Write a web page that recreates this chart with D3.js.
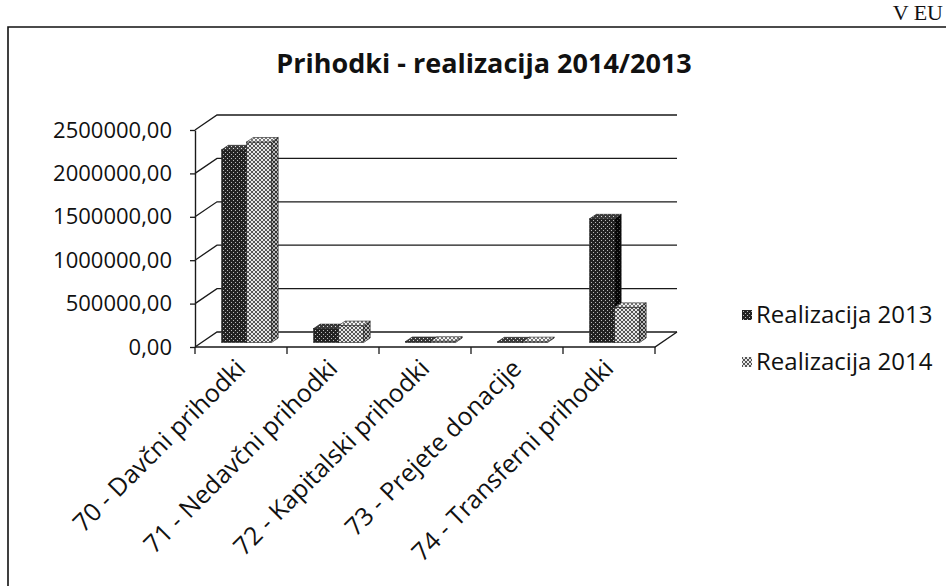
<!DOCTYPE html>
<html>
<head>
<meta charset="utf-8">
<script src="https://cdn.jsdelivr.net/npm/d3@7"></script>
<style>
  body { margin: 0; background: #fff; }
  text { font-family: "Open Sans", sans-serif; fill: #111; }
</style>
</head>
<body>
<div id="canvas"></div>
<script>
const W = 946
const H = 586

const categories = ['70 - Davčni prihodki', '71 - Nedavčni prihodki', '72 - Kapitalski prihodki', '73 - Prejete donacije', '74 - Transferni prihodki']
const series = ['Realizacija 2013', 'Realizacija 2014']
const values2013 = [2220000, 160000, 12000, 8000, 1425000]
const values2014 = [2310000, 195000, 15000, 10000, 405000]
const yTicks = [0, 500000, 1000000, 1500000, 2000000, 2500000]

// oblique depth offset of the 3d box
const DX = 22
const DY = 15
const d0 = 0.3
const d1 = 0.6

const svg = d3.select('#canvas')
	.append('svg')
	.attr('width', W)
	.attr('height', H);

// patterns that look like the scanned fills
const defs = svg.append('defs');
function dotPattern(id, bg, dot) {
	const p = defs.append('pattern').attr('id', id)
		.attr('width', 4).attr('height', 4).attr('patternUnits', 'userSpaceOnUse');
	p.append('rect').attr('width', 4).attr('height', 4).attr('fill', bg);
	p.append('rect').attr('x', 1).attr('y', 0).attr('width', 1).attr('height', 1).attr('fill', dot);
	p.append('rect').attr('x', 3).attr('y', 2).attr('width', 1).attr('height', 1).attr('fill', dot);
}
function hatchPattern(id, bg, line) {
	const p = defs.append('pattern').attr('id', id)
		.attr('width', 4).attr('height', 4).attr('patternUnits', 'userSpaceOnUse');
	p.append('rect').attr('width', 4).attr('height', 4).attr('fill', bg);
	p.append('path').attr('d', 'M0,0 L4,4 M4,0 L0,4').attr('stroke', line).attr('stroke-width', 1);
}
dotPattern('dark', '#222', '#bbb');
dotPattern('darkSide', '#050505', '#555');
dotPattern('darkTop', '#3a3a3a', '#ddd');
hatchPattern('light', '#e6e6e6', '#555');
hatchPattern('lightSide', '#bbb', '#333');
hatchPattern('lightTop', '#f2f2f2', '#777');

const fills = [
	{front: 'url(#dark)', side: 'url(#darkSide)', top: 'url(#darkTop)'},
	{front: 'url(#light)', side: 'url(#lightSide)', top: 'url(#lightTop)'}
];

// scanned page frame
svg.append('path')
	.attr('d', `M8,${H} L8,27 L${W},27`)
	.attr('fill', 'none')
	.attr('stroke', '#111')
	.attr('stroke-width', 1.6);

svg.append('text')
	.attr('x', 943)
	.attr('y', 20)
	.attr('text-anchor', 'end')
	.style('font-family', '"Liberation Serif", serif')
	.style('font-size', '22px')
	.text('V EU');

svg.append('text')
	.attr('x', 484)
	.attr('y', 73)
	.attr('text-anchor', 'middle')
	.style('font-size', '27px')
	.style('font-weight', 'bold')
	.text('Prihodki - realizacija 2014/2013');

const x = d3.scaleBand()
	.domain(categories)
	.range([195, 655]);

const xs = d3.scaleBand()
	.domain(series)
	.range([20, 70]);

const y = d3.scaleLinear()
	.domain([0, 2500000])
	.range([347, 130]);

const graph = svg.append('g');

// back wall + side wall gridlines
const x0 = x.range()[0], x1 = x.range()[1];
graph.selectAll('path.grid')
	.data(yTicks)
	.enter()
	.append('path')
		.attr('class', 'grid')
		.attr('d', t => `M${x0},${y(t)} L${x0 + DX},${y(t) - DY} L${x1 + DX},${y(t) - DY}`)
		.attr('fill', 'none')
		.attr('stroke', '#1a1a1a')
		.attr('stroke-width', 1.3);

// floor edges
graph.append('path')
	.attr('d', `M${x0},${y(0)} L${x1},${y(0)} L${x1 + DX},${y(0) - DY}`)
	.attr('fill', 'none')
	.attr('stroke', '#1a1a1a')
	.attr('stroke-width', 1.4);

// category ticks on the floor edge
graph.selectAll('line.ctick')
	.data(categories.map(c => x(c)).concat([x1]))
	.enter()
	.append('line')
		.attr('class', 'ctick')
		.attr('x1', d => d).attr('x2', d => d)
		.attr('y1', y(0)).attr('y2', y(0) + 7)
		.attr('stroke', '#1a1a1a')
		.attr('stroke-width', 1.3);

// y axis
const yAxis = d3.axisLeft(y)
	.tickValues(yTicks)
	.tickSize(5)
	.tickSizeOuter(0)
	.tickPadding(18)
	.tickFormat(d => d3.format('d')(d) + ',00');
const yAxisGroup = graph.append('g')
	.attr('transform', `translate(${x0}, 0)`)
	.call(yAxis);
yAxisGroup.select('.domain').attr('stroke', '#1a1a1a').attr('stroke-width', 1.4);
yAxisGroup.selectAll('line').attr('stroke', '#1a1a1a').attr('stroke-width', 1.3);
yAxisGroup.selectAll('text')
	.style('font-family', '"Open Sans", sans-serif')
	.style('font-size', '22px')
	.attr('fill', '#111');

// bars, left to right so the next bar hides the previous side face
const bars = [];
categories.forEach((c, i) => {
	[values2013[i], values2014[i]].forEach((v, s) => {
		bars.push({cat: c, s: s, v: v});
	});
});

const barG = graph.selectAll('g.bar')
	.data(bars)
	.enter()
	.append('g')
		.attr('class', 'bar');

function bx(d) { return x(d.cat) + xs(series[d.s]); }
const bw = xs.bandwidth();

barG.append('rect')
	.attr('x', d => bx(d) + d0 * DX)
	.attr('y', d => y(d.v) - d0 * DY)
	.attr('width', bw)
	.attr('height', d => y(0) - y(d.v))
	.attr('fill', d => fills[d.s].front)
	.attr('stroke', '#222')
	.attr('stroke-width', 0.6);

barG.append('path')
	.attr('d', d => {
		const r = bx(d) + bw;
		return `M${r + d0 * DX},${y(d.v) - d0 * DY} L${r + d1 * DX},${y(d.v) - d1 * DY} L${r + d1 * DX},${y(0) - d1 * DY} L${r + d0 * DX},${y(0) - d0 * DY}Z`;
	})
	.attr('fill', d => fills[d.s].side)
	.attr('stroke', '#222')
	.attr('stroke-width', 0.6);

barG.append('path')
	.attr('d', d => {
		const l = bx(d), r = bx(d) + bw, t = y(d.v);
		return `M${l + d0 * DX},${t - d0 * DY} L${r + d0 * DX},${t - d0 * DY} L${r + d1 * DX},${t - d1 * DY} L${l + d1 * DX},${t - d1 * DY}Z`;
	})
	.attr('fill', d => fills[d.s].top)
	.attr('stroke', '#222')
	.attr('stroke-width', 0.6);

// category labels
graph.selectAll('text.cat')
	.data(categories)
	.enter()
	.append('text')
		.attr('class', 'cat')
		.attr('text-anchor', 'end')
		.attr('transform', c => `translate(${x(c) + x.bandwidth() / 2 + 6}, 370) rotate(-45)`)
		.style('font-size', '25px')
		.text(c => c);

// legend
const legend = svg.selectAll('g.legend')
	.data(series)
	.enter()
	.append('g')
		.attr('class', 'legend')
		.attr('transform', (d, i) => `translate(742, ${315 + i * 47})`);

legend.append('rect')
	.attr('x', 0).attr('y', -5)
	.attr('width', 10).attr('height', 10)
	.attr('fill', (d, i) => fills[i].front);

legend.append('text')
	.attr('x', 14)
	.attr('dy', '0.35em')
	.style('font-size', '24px')
	.text(d => d);
</script>
</body>
</html>
